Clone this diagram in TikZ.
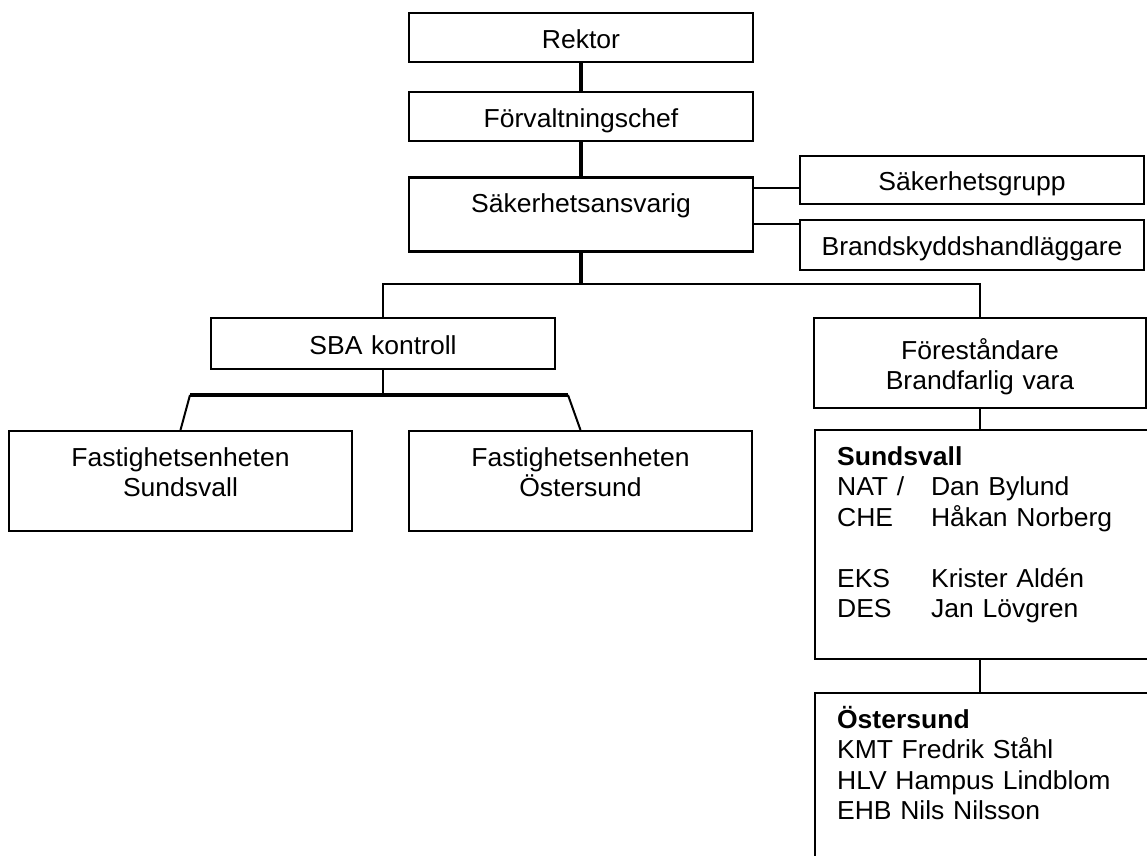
\documentclass[tikz,border=0pt]{standalone}
\usepackage{fontspec}
\setmainfont[FakeStretch=1.02]{Liberation Sans}
\usepackage{tikz}
\usetikzlibrary{positioning}
\tikzstyle{block} = [rectangle, draw, line width=2.2pt, text width=344pt, align=center,
    inner sep=0pt, text height=35pt, text depth=14pt, font=\fontsize{26}{30.5}\selectfont]
\tikzstyle{list} = [block, align=left, inner xsep=22pt, text width=292pt, anchor=north west]
\tikzstyle{line} = [draw, line width=2pt]
\tikzstyle{heavy} = [draw, line width=3.2pt]
\newcommand{\dept}[2]{\makebox[94pt][l]{#1}#2}

\begin{document}
\begin{tikzpicture}[x=1pt, y=1pt, node distance=28pt]
    \useasboundingbox (0,0) rectangle (1147,-855);
    % Place nodes
    \node [block, anchor=north] (rektor) at (581,-12) {Rektor};
    \node [block, below=28pt of rektor] (forvaltning) {Förvaltningschef};
    \node [block, below=34pt of forvaltning, text depth=39pt] (sakansv) {Säkerhetsansvarig};
    \node [block, anchor=north west, text height=34pt] (sakgrupp) at (799,-155) {Säkerhetsgrupp};
    \node [block, below=14pt of sakgrupp, text depth=15pt] (brandsk) {Brandskyddshandläggare};
    \node [block, anchor=north, text height=36pt, text depth=15pt] (sba) at (383,-317) {SBA kontroll};
    \node [block, anchor=north, text width=332pt, text height=41pt, text depth=49pt] (forest) at (980,-317)
        {Föreståndare\\Brandfarlig vara};
    \node [block, anchor=north, text width=343pt, text depth=65pt] (fastsund) at (180.5,-430)
        {Fastighetsenheten\\Sundsvall};
    \node [block, anchor=north, text width=343pt, text depth=65pt] (fastost) at (580.5,-430)
        {Fastighetsenheten\\Östersund};
    \node [list, text depth=194pt] (sundsvall) at (814,-429)
        {\textbf{Sundsvall}\\
         \dept{NAT /}{Dan Bylund}\\
         \dept{CHE}{Håkan Norberg}\\[30.5pt]
         \dept{EKS}{Krister Aldén}\\
         \dept{DES}{Jan Lövgren}};
    \node [list, text depth=300pt] (ostersund) at (814,-692)
        {\textbf{Östersund}\\
         KMT Fredrik Ståhl\\
         HLV Hampus Lindblom\\
         EHB Nils Nilsson};
    \coordinate [below=31pt of sakansv.south] (hub);
    \coordinate [below=27pt of sba.south] (sbahub);
    \coordinate (barl) at (190,-395);
    \coordinate (barr) at (568,-395);
    % Draw edges
    \path [heavy] (rektor) -- (forvaltning);
    \path [heavy] (forvaltning) -- (sakansv);
    \path [line] ([yshift=-8pt]sakgrupp.west) -- ([yshift=-8pt]sakgrupp.west -| sakansv.east);
    \path [line] ([yshift=21pt]brandsk.west) -- ([yshift=21pt]brandsk.west -| sakansv.east);
    \path [heavy] (sakansv) -- (hub);
    \path [line] (sba) |- (hub) -| (forest);
    \path [line] (sba) -- (sbahub);
    \path [heavy] (barl) -- (barr);
    \path [line] (barl) -- (fastsund.north);
    \path [line] (barr) -- (fastost.north);
    \path [line] (forest.south) -- (forest.south |- sundsvall.north);
    \path [line] (forest.south |- sundsvall.south) -- (forest.south |- ostersund.north);
\end{tikzpicture}
\end{document}
